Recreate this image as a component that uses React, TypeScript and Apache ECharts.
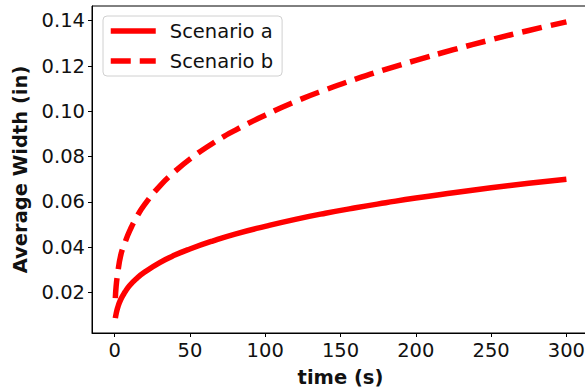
import React, { useEffect, useRef } from "react";
import * as echarts from "echarts";

// Elapsed time (s)
const timeSec = [0.5, 1, 2, 4, 7, 10, 15, 20, 30, 40, 50, 65, 80, 100, 120, 140, 160, 180, 200, 225, 250, 275, 300];

// Average width (in) for each scenario
const scenarioA = [0.0087, 0.0105, 0.0132, 0.0168, 0.0203, 0.0231, 0.0264, 0.029, 0.0332, 0.0365, 0.0392, 0.0427, 0.0458, 0.0492, 0.0523, 0.055, 0.0574, 0.0596, 0.0617, 0.064, 0.0662, 0.0682, 0.07];
const scenarioB = [0.0175, 0.0225, 0.0281, 0.0362, 0.0422, 0.0472, 0.0537, 0.0589, 0.067, 0.0734, 0.0789, 0.0858, 0.0916, 0.0983, 0.1043, 0.1095, 0.1142, 0.1185, 0.1225, 0.1272, 0.1316, 0.1357, 0.1395];

const xTicks = [0, 50, 100, 150, 200, 250, 300];
const yTicks = [0.02, 0.04, 0.06, 0.08, 0.1, 0.12, 0.14];

const FONT = "DejaVu Sans";
const INK = "#111";
const FS = 19.5;

export default function App() {
  const ref = useRef<HTMLDivElement>(null);

  useEffect(() => {
    document.body.style.margin = "0";
    if (!ref.current) return;
    const chart = echarts.init(ref.current, undefined, { renderer: "svg" });
    const pair = (ys: number[]) => timeSec.map((t, i) => [t, ys[i]]);

    chart.setOption({
      animation: false,
      backgroundColor: "#fff",
      textStyle: { fontFamily: FONT },
      grid: {
        left: 92,
        top: 6,
        width: 497,
        bottom: 59,
        outerBoundsMode: "none",
        containLabel: false,
        show: true,
        borderColor: "#000",
        borderWidth: 1,
        backgroundColor: "transparent",
      },
      legend: {
        left: 103,
        top: 16,
        orient: "vertical",
        itemWidth: 45,
        itemHeight: 14,
        itemGap: 10,
        padding: [5, 9, 5, 5],
        borderColor: "#d0d0d0",
        borderWidth: 1,
        borderRadius: 4,
        backgroundColor: "rgba(255,255,255,0.8)",
        itemStyle: { opacity: 0 },
        lineStyle: { width: 5.5 },
        textStyle: { fontSize: FS, color: INK, fontFamily: FONT, padding: [0, 0, 0, 9] },
        data: ["Scenario a", "Scenario b"],
      },
      xAxis: {
        type: "value",
        min: -15,
        max: 315,
        name: "time (s)",
        nameLocation: "middle",
        nameGap: 34,
        nameTextStyle: { fontSize: FS, fontWeight: "bold", color: INK, fontFamily: FONT },
        axisLine: { show: true, onZero: false, lineStyle: { color: "#000", width: 1 } },
        axisTick: { show: true, length: 4, lineStyle: { color: "#000" }, customValues: xTicks },
        axisLabel: { fontSize: FS, color: INK, margin: 7, customValues: xTicks, fontFamily: FONT },
        splitLine: { show: false },
      },
      yAxis: {
        type: "value",
        min: 0.0021,
        max: 0.1465,
        name: "Average Width (in)",
        nameLocation: "middle",
        nameGap: 60,
        nameTextStyle: { fontSize: FS, fontWeight: "bold", color: INK, fontFamily: FONT },
        axisLine: { show: true, onZero: false, lineStyle: { color: "#000", width: 1 } },
        axisTick: { show: true, length: 4, lineStyle: { color: "#000" }, customValues: yTicks },
        axisLabel: {
          fontSize: FS,
          color: INK,
          margin: 7,
          customValues: yTicks,
          fontFamily: FONT,
          formatter: (v: number) => v.toFixed(2),
        },
        splitLine: { show: false },
      },
      series: [
        {
          name: "Scenario a",
          type: "line",
          data: pair(scenarioA),
          smooth: true,
          symbol: "none",
          color: "#ff0000",
          lineStyle: { color: "#ff0000", width: 5.5, type: "solid", cap: "butt" },
        },
        {
          name: "Scenario b",
          type: "line",
          data: pair(scenarioB),
          smooth: true,
          symbol: "none",
          color: "#ff0000",
          lineStyle: { color: "#ff0000", width: 5.5, type: [20, 9], cap: "butt" },
        },
      ],
    });

    return () => chart.dispose();
  }, []);

  return <div ref={ref} style={{ width: 585, height: 392 }} />;
}
